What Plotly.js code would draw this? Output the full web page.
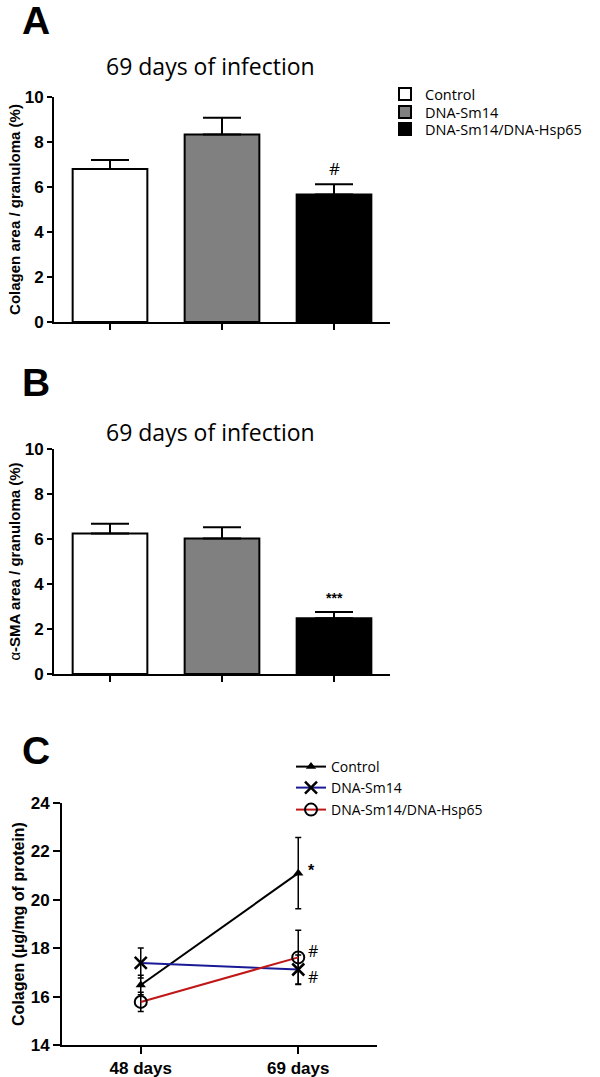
<!DOCTYPE html>
<html><head><meta charset="utf-8">
<script src="https://cdn.plot.ly/plotly-3.0.1.min.js"></script>
<style>html,body{margin:0;padding:0;background:#fff}#chart{width:600px;height:1077px}</style>
</head><body><div id="chart"></div>
<script>
// ---- data ----
const groups = ["Control", "DNA-Sm14", "DNA-Sm14/DNA-Hsp65"];
const groupColors = ["#ffffff", "#808080", "#000000"];
const colagenArea = [6.8, 8.33, 5.67];
const colagenAreaErr = [0.4, 0.75, 0.45];
const smaArea = [6.25, 6.02, 2.48];
const smaAreaErr = [0.43, 0.5, 0.27];
const days = ["48 days", "69 days"];
const controlColagen = [16.48, 21.1];
const controlColagenErr = [0.4, 1.47];
const sm14Colagen = [17.39, 17.12];
const sm14ColagenErr = [0.62, 0.6];
const hspColagen = [15.78, 17.62];
const hspColagenErr = [0.4, 1.12];

const H = 1077, W = 600;
const py = p => 1 - p / H;
const px = p => p / W;
const AR = 'Arial, "Liberation Sans", sans-serif';
const CAL = '"Open Sans", sans-serif';

const traces = [];
const legA = ['legend', 'legend2', 'legend3'];
const legC = ['legend4', 'legend5', 'legend6'];
groups.forEach((g, i) => {
  traces.push({type: 'bar', x: [g], y: [colagenArea[i]], name: g, width: 0.667,
    marker: {color: groupColors[i], line: {color: '#000', width: 2}},
    error_y: {type: 'data', symmetric: false, array: [colagenAreaErr[i]], arrayminus: [0], color: '#000', thickness: 2, width: 19},
    xaxis: 'x', yaxis: 'y', legend: legA[i]});
});
groups.forEach((g, i) => {
  traces.push({type: 'bar', x: [g], y: [smaArea[i]], name: g, width: 0.667, showlegend: false,
    marker: {color: groupColors[i], line: {color: '#000', width: 2}},
    error_y: {type: 'data', symmetric: false, array: [smaAreaErr[i]], arrayminus: [0], color: '#000', thickness: 2, width: 19},
    xaxis: 'x2', yaxis: 'y2'});
});
const lineSeries = [
  {name: 'Control', y: controlColagen, e: controlColagenErr, color: '#000000', symbol: 'triangle-up', size: 9, lw: 0},
  {name: 'DNA-Sm14', y: sm14Colagen, e: sm14ColagenErr, color: '#1a1a96', symbol: 'x-thin-open', size: 12, lw: 2.5},
  {name: 'DNA-Sm14/DNA-Hsp65', y: hspColagen, e: hspColagenErr, color: '#c01818', symbol: 'circle-open', size: 12, lw: 2}
];
lineSeries.forEach((s, i) => {
  traces.push({type: 'scatter', mode: 'lines+markers', x: days, y: s.y, name: s.name,
    line: {color: s.color, width: 2},
    marker: {symbol: s.symbol, size: s.size, color: '#000', line: {color: '#000', width: s.lw}},
    error_y: {type: 'data', array: s.e, color: '#000', thickness: 1.5, width: 3},
    xaxis: 'x3', yaxis: 'y3', legend: legC[i]});
});

const tickfont = {family: AR, size: 17, color: '#000', weight: 'bold'};
const yBase = {showgrid: false, zeroline: false, showline: true, linecolor: '#000', linewidth: 2,
  ticks: 'outside', ticklen: 5, tickwidth: 2, tickcolor: '#000', tickfont: tickfont, dtick: 2,
  range: [0, 10], fixedrange: true};
const xBase = {showgrid: false, zeroline: false, showline: true, linecolor: '#000', linewidth: 2,
  ticks: 'outside', ticklen: 6, tickwidth: 2, tickcolor: '#000', showticklabels: false,
  range: [-0.5, 2.5], type: 'category', fixedrange: true};

const layout = {
  width: W, height: H, margin: {l: 0, r: 0, t: 0, b: 0},
  paper_bgcolor: '#fff', plot_bgcolor: 'rgba(0,0,0,0)', barmode: 'overlay',
  xaxis: Object.assign({}, xBase, {domain: [px(54), px(390)], anchor: 'y'}),
  yaxis: Object.assign({}, yBase, {domain: [py(322), py(97)], anchor: 'x',
    title: {text: 'Colagen area / granuloma (%)', font: {family: AR, size: 15, weight: 'bold', color: '#000'}, standoff: 0}}),
  xaxis2: Object.assign({}, xBase, {domain: [px(54), px(390)], anchor: 'y2'}),
  yaxis2: Object.assign({}, yBase, {domain: [py(674), py(449)], anchor: 'x2',
    title: {text: '<span style="font-weight:normal">α</span>-SMA area / granuloma (%)', font: {family: AR, size: 15, weight: 'bold', color: '#000'}, standoff: 0}}),
  xaxis3: Object.assign({}, xBase, {domain: [px(62), px(377)], anchor: 'y3', range: [-0.5, 1.5], ticklen: 7,
    showticklabels: true, tickfont: {family: AR, size: 17, weight: 'bold', color: '#000'}}),
  yaxis3: Object.assign({}, yBase, {domain: [py(1045), py(803)], anchor: 'x3', range: [14, 24], ticklen: 7,
    title: {text: 'Colagen (µg/mg of protein)', font: {family: AR, size: 16, weight: 'bold', color: '#000'}, standoff: 2}}),
  showlegend: true,
  annotations: [
    {text: 'A', xref: 'paper', yref: 'paper', x: px(20), y: py(-3), xanchor: 'left', yanchor: 'top', showarrow: false, font: {family: AR, size: 39, weight: 'bold', color: '#000'}},
    {text: 'B', xref: 'paper', yref: 'paper', x: px(20), y: py(359), xanchor: 'left', yanchor: 'top', showarrow: false, font: {family: AR, size: 39, weight: 'bold', color: '#000'}},
    {text: 'C', xref: 'paper', yref: 'paper', x: px(20), y: py(727), xanchor: 'left', yanchor: 'top', showarrow: false, font: {family: AR, size: 39, weight: 'bold', color: '#000'}},
    {text: '69 days of infection', xref: 'paper', yref: 'paper', x: px(210), y: py(66), yanchor: 'middle', showarrow: false, font: {family: CAL, size: 23, color: '#000'}},
    {text: '69 days of infection', xref: 'paper', yref: 'paper', x: px(210), y: py(432), yanchor: 'middle', showarrow: false, font: {family: CAL, size: 23, color: '#000'}},
    {text: '#', xref: 'x', yref: 'y', x: groups[2], y: colagenArea[2] + colagenAreaErr[2], yshift: 16, showarrow: false, font: {family: CAL, size: 17, color: '#000'}},
    {text: '***', xref: 'x2', yref: 'y2', x: groups[2], y: smaArea[2] + smaAreaErr[2], yshift: 14, showarrow: false, font: {family: AR, size: 14, weight: 'bold', color: '#000'}},
    {text: '*', xref: 'x3', yref: 'y3', x: days[1], y: controlColagen[1], xshift: 13, yshift: 3, showarrow: false, font: {family: AR, size: 16, weight: 'bold', color: '#000'}},
    {text: '#', xref: 'x3', yref: 'y3', x: days[1], y: hspColagen[1], xshift: 15, yshift: 6, showarrow: false, font: {family: CAL, size: 16, color: '#000'}},
    {text: '#', xref: 'x3', yref: 'y3', x: days[1], y: sm14Colagen[1], xshift: 15, yshift: -7, showarrow: false, font: {family: CAL, size: 16, color: '#000'}}
  ]
};
const legAy = [94, 112, 129];
const legCy = [767, 788, 810];
legA.forEach((k, i) => {
  layout[k] = {x: px(385), y: py(legAy[i]), xanchor: 'left', yanchor: 'middle',
    font: {family: CAL, size: 14.5, color: '#000'}, bgcolor: 'rgba(0,0,0,0)'};
});
legC.forEach((k, i) => {
  layout[k] = {x: px(291), y: py(legCy[i]), xanchor: 'left', yanchor: 'middle',
    font: {family: CAL, size: 14, color: '#000'}, bgcolor: 'rgba(0,0,0,0)'};
});
Plotly.newPlot('chart', traces, layout, {displayModeBar: false, staticPlot: true});
</script>
</body></html>
